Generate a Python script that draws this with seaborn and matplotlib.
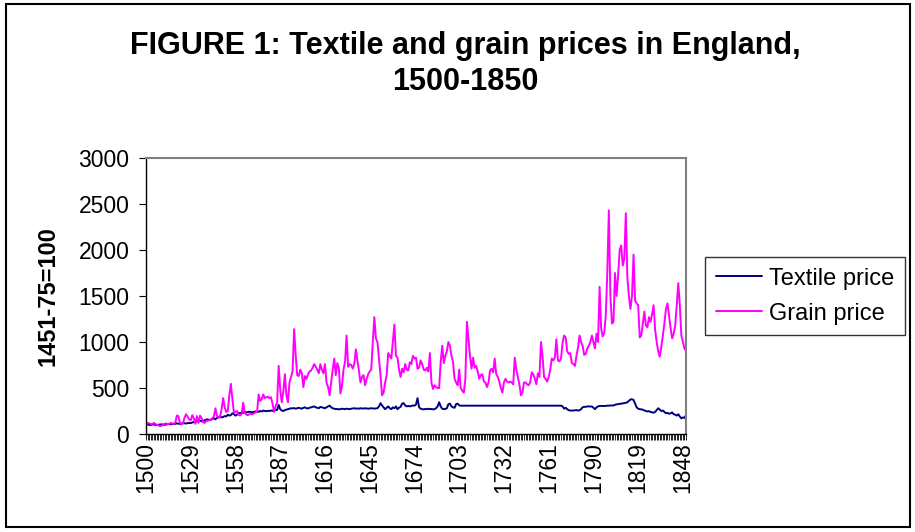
import matplotlib
matplotlib.use("Agg")
import matplotlib.pyplot as plt
import seaborn as sns
import pandas as pd
from matplotlib.patches import Rectangle

# --------------------------
# Data (index 1451-75 = 100), one value per year 1500..1850
# --------------------------
years = list(range(1500, 1851))

textile_price = [
    100, 105, 100, 98, 102, 105, 100, 98, 100, 103,
    105, 102, 100, 104, 106, 108, 105, 110, 108, 112,
    115, 112, 110, 115, 118, 116, 114, 118, 120, 118,
    125, 130, 140, 135, 150, 145, 140, 135, 150, 155,
    160, 150, 155, 165, 170, 160, 175, 185, 190, 180,
    185, 195, 190, 210, 200, 205, 225, 215, 200, 210,
    230, 225, 235, 230, 240, 235, 238, 242, 240, 236,
    240, 245, 238, 242, 250, 245, 255, 250, 248, 252,
    250, 255, 252, 258, 260, 262, 316, 270, 255, 250,
    260, 265, 270, 275, 280, 278, 282, 275, 280, 285,
    280, 275, 285, 290, 280, 278, 285, 290, 295, 300,
    290, 285, 280, 295, 290, 285, 280, 290, 300, 308,
    290, 280, 275, 270, 272, 268, 270, 275, 272, 270,
    275, 272, 270, 275, 278, 280, 276, 278, 275, 280,
    278, 276, 280, 278, 275, 277, 280, 278, 276, 278,
    280, 300, 335, 310, 290, 270, 285, 300, 280, 270,
    290, 280, 300, 270, 285, 295, 330, 335, 310, 300,
    305, 300, 305, 310, 308, 320, 390, 290, 275, 270,
    268, 272, 270, 275, 270, 272, 268, 270, 280, 300,
    345, 300, 275, 270, 272, 280, 325, 330, 300, 290,
    285, 325, 330, 310, 308, 308, 308, 308, 308, 308,
    308, 308, 308, 308, 308, 308, 308, 308, 308, 308,
    308, 308, 308, 308, 308, 308, 308, 308, 308, 308,
    308, 308, 308, 308, 308, 308, 308, 308, 308, 308,
    308, 308, 308, 308, 308, 308, 308, 308, 308, 308,
    308, 308, 308, 308, 308, 308, 308, 308, 308, 308,
    308, 308, 308, 308, 308, 308, 308, 308, 308, 308,
    300, 275, 285, 270, 258, 255, 255, 255, 258, 260,
    255, 258, 270, 290, 295, 295, 300, 300, 298, 300,
    285, 270, 290, 300, 305, 305, 305, 305, 305, 308,
    308, 310, 310, 310, 318, 322, 325, 328, 330, 332,
    335, 340, 345, 360, 375, 378, 370, 330, 290, 275,
    270, 268, 265, 255, 250, 245, 248, 240, 235, 232,
    240, 260, 280, 265, 250, 255, 240, 225, 230, 220,
    225, 235, 215, 210, 200, 215, 190, 170, 180, 175,
    205,
]

grain_price = [
    125, 120, 115, 110, 105, 120, 110, 100, 95, 85,
    90, 100, 110, 115, 105, 110, 120, 115, 110, 125,
    200, 195, 120, 105, 115, 180, 215, 185, 160, 150,
    205, 170, 110, 195, 120, 200, 175, 130, 120, 140,
    145, 150, 160, 170, 190, 280, 200, 175, 190, 270,
    390, 290, 240, 250, 420, 545, 380, 230, 240, 250,
    210, 200, 220, 340, 230, 210, 205, 215, 220, 215,
    225, 235, 240, 430, 360, 380, 430, 390, 400, 405,
    390, 400, 330, 240, 300, 345, 740, 480, 345, 460,
    650, 420, 345, 560, 620, 680, 1140, 860, 640, 630,
    700, 660, 510, 630, 600, 650, 680, 690, 720, 760,
    730, 700, 660, 760, 700, 660, 760, 560, 510, 420,
    560, 700, 820, 640, 770, 720, 440, 520, 700, 780,
    1070, 730, 760, 750, 710, 760, 920, 800, 690, 560,
    620, 640, 530, 600, 650, 680, 700, 1000, 1270, 1040,
    1000, 820, 640, 420, 450, 560, 640, 880, 850, 820,
    1000, 1190, 850, 830, 700, 620, 710, 670, 760, 700,
    690, 780, 760, 850, 820, 830, 710, 720, 800, 760,
    700, 690, 720, 680, 880, 560, 490, 530, 510, 500,
    500, 780, 960, 770, 850, 900, 1000, 960, 850, 780,
    600, 560, 530, 700, 500, 470, 450, 600, 1220, 1040,
    850, 710, 830, 720, 740, 680, 600, 640, 650, 570,
    560, 510, 560, 690, 710, 670, 820, 650, 620, 570,
    500, 450, 560, 600, 570, 560, 570, 560, 540, 830,
    700, 620, 540, 420, 450, 560, 560, 540, 530, 560,
    670, 650, 600, 540, 660, 620, 1000, 850, 620, 600,
    570, 620, 700, 820, 800, 830, 1030, 800, 790, 820,
    990, 1070, 1050, 900, 870, 880, 770, 760, 740, 850,
    940, 1070, 1000, 960, 860, 870, 930, 960, 1000, 1070,
    1000, 930, 1090, 1000, 1600, 1150, 1060, 1100, 1290, 1760,
    2430, 1500, 1200, 1220, 1750, 1500, 1720, 2000, 2050, 1830,
    1900, 2400, 1700, 1500, 1360, 1500, 1950, 1450, 1420, 1400,
    1050, 1070, 1200, 1330, 1180, 1160, 1270, 1220, 1300, 1400,
    1130, 1000, 900, 840, 950, 1070, 1200, 1360, 1420, 1290,
    1150, 1040, 1090, 1180, 1400, 1640, 1400, 1070, 1000, 930,
    900,
]

tick_years = [1500, 1529, 1558, 1587, 1616, 1645, 1674, 1703, 1732, 1761, 1790, 1819, 1848]
series_names = ['Textile price', 'Grain price']
series_colors = {'Textile price': '#000080', 'Grain price': '#FF00FF'}

df = pd.DataFrame({
    'Year': years + years,
    'Price': textile_price + grain_price,
    'Series': [series_names[0]] * len(years) + [series_names[1]] * len(years),
})

# --------------------------
# Style
# --------------------------
sns.set_style("white")
plt.rcParams['font.family'] = ['Liberation Sans', 'DejaVu Sans']
plt.rcParams['text.color'] = 'black'
plt.rcParams['axes.labelcolor'] = 'black'
plt.rcParams['xtick.color'] = 'black'
plt.rcParams['ytick.color'] = 'black'

fig = plt.figure(figsize=(9.15, 5.32), dpi=100)
ax = fig.add_axes([146 / 915, 1 - 434 / 532, 540 / 915, 276 / 532])

sns.lineplot(data=df, x='Year', y='Price', hue='Series', hue_order=series_names,
             palette=series_colors, linewidth=1.4, ax=ax)

ax.set_xlim(1500, 1850)
ax.set_ylim(0, 3000)
ax.set_yticks(range(0, 3001, 500))
ax.set_xticks(tick_years)
ax.set_xticklabels([str(y) for y in tick_years], rotation=90)
ax.set_xticks(years, minor=True)
ax.set_xlabel('')
ax.set_ylabel('1451-75=100', fontsize=17, fontweight='bold', color='black')
ax.yaxis.set_label_coords(-0.16, 0.5)

ax.tick_params(axis='y', left=True, direction='out', length=5, width=0.8,
               color='black', labelcolor='black', labelsize=16.5, pad=7)
ax.tick_params(axis='x', which='both', bottom=True, direction='out', length=4.5,
               width=0.6, color='black', labelcolor='black', labelsize=16.5, pad=1.5)

for side in ['left', 'bottom']:
    ax.spines[side].set_color('black')
    ax.spines[side].set_linewidth(1.0)
for side in ['top', 'right']:
    ax.spines[side].set_color('#808080')
    ax.spines[side].set_linewidth(1.5)

# Legend box to the right of the plot area
handles, labels = ax.get_legend_handles_labels()
leg = ax.legend(handles, labels, loc='upper left',
                bbox_to_anchor=(705 / 915, 1 - 257 / 532), bbox_transform=fig.transFigure,
                frameon=True, fancybox=False, edgecolor='black', fontsize=17,
                handlelength=1.95, handletextpad=0.3, borderpad=0.45,
                labelspacing=0.55, borderaxespad=0)
leg.get_frame().set_linewidth(1.0)
for text in leg.get_texts():
    text.set_color('black')
for line in leg.get_lines():
    line.set_linewidth(1.4)

# Title
fig.text(465 / 915, 1 - 64 / 532,
         'FIGURE 1: Textile and grain prices in England,\n1500-1850',
         ha='center', va='center', fontsize=22, fontweight='bold',
         linespacing=1.3, color='black')

# Chart border
fig.add_artist(Rectangle((6 / 915, 1 - 527 / 532), 904 / 915, 523 / 532,
                         transform=fig.transFigure, fill=False,
                         edgecolor='black', linewidth=1.5))

fig.savefig('out.png', dpi=100)
